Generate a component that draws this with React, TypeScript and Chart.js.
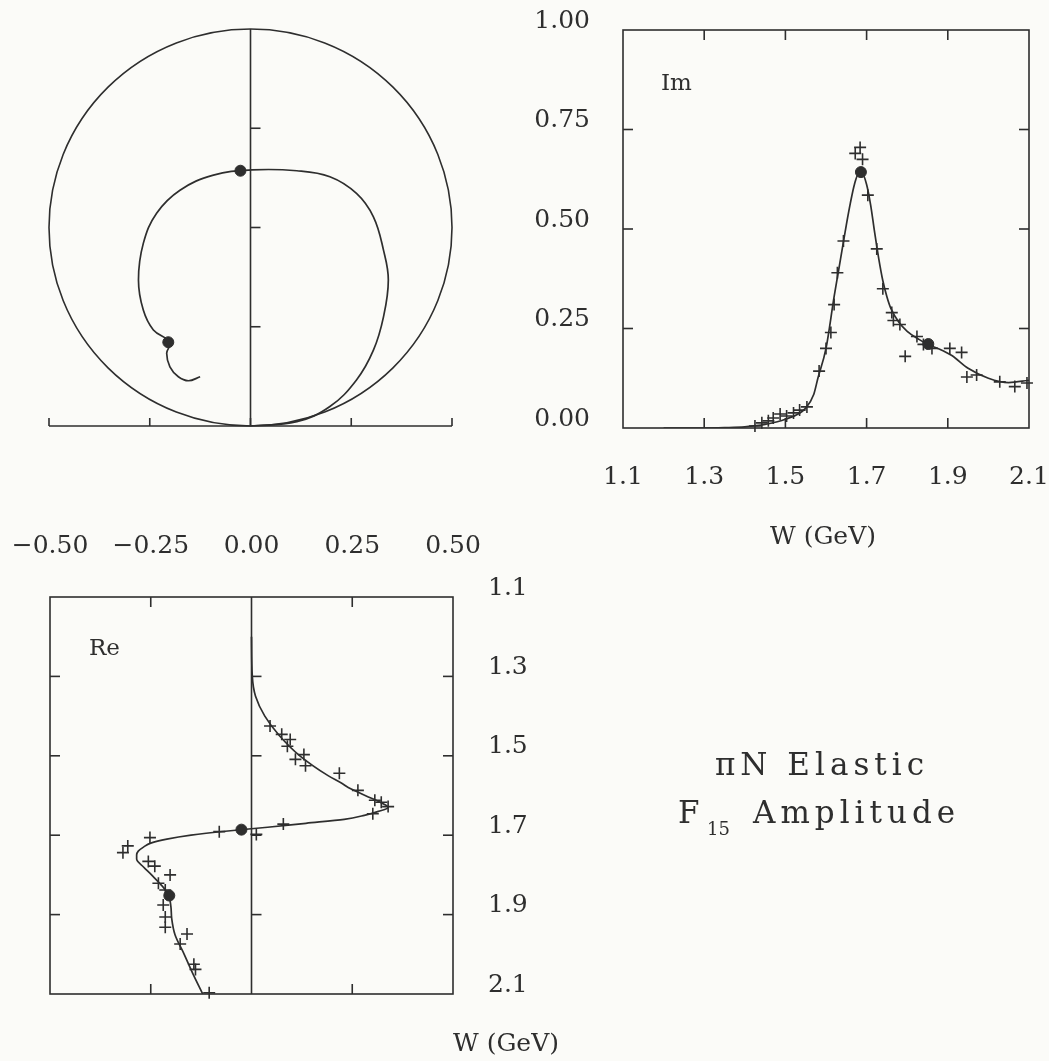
import React, { useEffect, useRef } from 'react';
import { Chart, registerables } from 'chart.js';

Chart.register(...registerables);

const INK = '#2e2e2e';
const FONT = 'DejaVu Serif';

// ---- fitted amplitude vs W (shared W grid) ----
const FIT_W = [1.20, 1.30, 1.35, 1.40, 1.45, 1.50, 1.55, 1.57, 1.58, 1.60, 1.62, 1.63, 1.64, 1.65, 1.66, 1.67, 1.68, 1.69, 1.70, 1.71, 1.72, 1.73, 1.74, 1.75, 1.76, 1.78, 1.80, 1.83, 1.85, 1.88, 1.91, 1.95, 2.00, 2.05, 2.10];
const FIT_RE = [0.000, 0.002, 0.010, 0.033, 0.070, 0.120, 0.190, 0.225, 0.240, 0.282, 0.325, 0.339, 0.315, 0.280, 0.230, 0.135, 0.040, -0.065, -0.150, -0.210, -0.250, -0.268, -0.281, -0.285, -0.285, -0.268, -0.248, -0.220, -0.206, -0.200, -0.198, -0.190, -0.167, -0.145, -0.121];
const FIT_IM = [0.000, 0.000, 0.001, 0.003, 0.009, 0.022, 0.050, 0.085, 0.125, 0.200, 0.330, 0.390, 0.450, 0.510, 0.565, 0.612, 0.638, 0.638, 0.612, 0.560, 0.490, 0.425, 0.370, 0.330, 0.300, 0.265, 0.243, 0.222, 0.210, 0.198, 0.182, 0.150, 0.125, 0.114, 0.120];

// ---- Argand trajectory (Re, Im) ----
const ARG_RE = [0.000, 0.115, 0.197, 0.263, 0.305, 0.330, 0.342, 0.330, 0.305, 0.263, 0.197, 0.115, 0.003, -0.092, -0.175, -0.233, -0.266, -0.278, -0.266, -0.241, -0.200, -0.208, -0.200, -0.179, -0.154, -0.125];
const ARG_IM = [0.000, 0.011, 0.049, 0.116, 0.191, 0.275, 0.368, 0.443, 0.527, 0.586, 0.628, 0.643, 0.645, 0.632, 0.594, 0.536, 0.460, 0.368, 0.292, 0.242, 0.211, 0.183, 0.149, 0.124, 0.114, 0.124];

// ---- data points (crosses) ----
const IM_W = [1.425, 1.442, 1.458, 1.470, 1.487, 1.503, 1.520, 1.535, 1.553, 1.583, 1.600, 1.612, 1.620, 1.628, 1.643, 1.672, 1.684, 1.690, 1.703, 1.725, 1.740, 1.762, 1.766, 1.782, 1.795, 1.824, 1.840, 1.861, 1.905, 1.934, 1.947, 1.971, 2.028, 2.065, 2.095];
const IM_V = [0.005, 0.013, 0.018, 0.025, 0.035, 0.030, 0.038, 0.045, 0.053, 0.143, 0.200, 0.240, 0.310, 0.390, 0.470, 0.690, 0.705, 0.675, 0.585, 0.450, 0.350, 0.290, 0.270, 0.260, 0.180, 0.230, 0.210, 0.200, 0.200, 0.190, 0.128, 0.133, 0.116, 0.104, 0.113];

const RE_W = [1.425, 1.446, 1.459, 1.476, 1.497, 1.509, 1.525, 1.544, 1.587, 1.612, 1.617, 1.628, 1.646, 1.672, 1.691, 1.698, 1.706, 1.727, 1.744, 1.766, 1.778, 1.800, 1.821, 1.838, 1.876, 1.906, 1.932, 1.949, 1.974, 2.025, 2.038, 2.097];
const RE_V = [0.046, 0.075, 0.096, 0.089, 0.130, 0.109, 0.134, 0.218, 0.264, 0.306, 0.322, 0.339, 0.301, 0.079, -0.080, 0.012, -0.252, -0.307, -0.319, -0.256, -0.240, -0.202, -0.231, -0.214, -0.219, -0.214, -0.214, -0.160, -0.177, -0.143, -0.139, -0.105];

// ---- resonance markers ----
const DOT_W = [1.686, 1.852];
const DOT_RE = [-0.025, -0.204];
const DOT_IM = [0.643, 0.211];

// ---- ticks ----
const W_TICKS = [1.1, 1.3, 1.5, 1.7, 1.9, 2.1];
const IM_TICKS = [0, 0.25, 0.5, 0.75, 1.0];
const RE_TICKS = [-0.5, -0.25, 0, 0.25, 0.5];

const TICK = 10;
const tickFont = { family: FONT, size: 25 };

function seg(ctx: CanvasRenderingContext2D, x1: number, y1: number, x2: number, y2: number) {
  ctx.beginPath();
  ctx.moveTo(x1, y1);
  ctx.lineTo(x2, y2);
  ctx.stroke();
}

const fmtSigned = (v: number) => Number(v).toFixed(2).replace('-', '\u2212');

function fixSize(kind: 'w' | 'h', size: number) {
  return (s: any) => {
    if (kind === 'w') s.width = size;
    else s.height = size;
    s.paddingLeft = 0;
    s.paddingRight = 0;
    s.paddingTop = 0;
    s.paddingBottom = 0;
  };
}

const argandAxes = {
  id: 'argandAxes',
  beforeDatasetsDraw(chart: any) {
    const { ctx, scales } = chart;
    const xs = scales.x, ys = scales.y;
    ctx.save();
    ctx.strokeStyle = INK;
    ctx.lineWidth = 1.6;
    const cx = xs.getPixelForValue(0);
    const cy = ys.getPixelForValue(0.5);
    const rx = xs.getPixelForValue(0.5) - cx;
    const ry = ys.getPixelForValue(0) - cy;
    ctx.beginPath();
    ctx.ellipse(cx, cy, rx, ry, 0, 0, Math.PI * 2);
    ctx.stroke();
    const y0 = ys.getPixelForValue(0);
    seg(ctx, xs.getPixelForValue(RE_TICKS[0]), y0, xs.getPixelForValue(RE_TICKS[RE_TICKS.length - 1]), y0);
    RE_TICKS.forEach((v) => {
      const p = xs.getPixelForValue(v);
      seg(ctx, p, y0, p, y0 - 8);
    });
    seg(ctx, cx, ys.getPixelForValue(0), cx, ys.getPixelForValue(1));
    IM_TICKS.slice(1, -1).forEach((v) => {
      const p = ys.getPixelForValue(v);
      seg(ctx, cx, p, cx + TICK, p);
    });
    ctx.restore();
  },
};

const imFrame = {
  id: 'imFrame',
  beforeDatasetsDraw(chart: any) {
    const { ctx, chartArea: a, scales } = chart;
    const xs = scales.x, ys = scales.y;
    ctx.save();
    ctx.strokeStyle = INK;
    ctx.lineWidth = 1.6;
    ctx.strokeRect(a.left, a.top, a.right - a.left, a.bottom - a.top);
    W_TICKS.slice(1, -1).forEach((v) => {
      const p = xs.getPixelForValue(v);
      seg(ctx, p, a.bottom, p, a.bottom - TICK);
      seg(ctx, p, a.top, p, a.top + TICK);
    });
    IM_TICKS.slice(1, -1).forEach((v) => {
      const p = ys.getPixelForValue(v);
      seg(ctx, a.left, p, a.left + TICK, p);
      seg(ctx, a.right, p, a.right - TICK, p);
    });
    ctx.restore();
  },
};

const reFrame = {
  id: 'reFrame',
  beforeDatasetsDraw(chart: any) {
    const { ctx, chartArea: a, scales } = chart;
    const xs = scales.x, ys = scales.y;
    ctx.save();
    ctx.strokeStyle = INK;
    ctx.lineWidth = 1.6;
    ctx.strokeRect(a.left, a.top, a.right - a.left, a.bottom - a.top);
    const x0 = xs.getPixelForValue(0);
    seg(ctx, x0, a.top, x0, a.bottom);
    RE_TICKS.slice(1, -1).forEach((v) => {
      if (v === 0) return;
      const p = xs.getPixelForValue(v);
      seg(ctx, p, a.top, p, a.top + TICK);
      seg(ctx, p, a.bottom, p, a.bottom - TICK);
    });
    W_TICKS.slice(1, -1).forEach((v) => {
      const p = ys.getPixelForValue(v);
      seg(ctx, a.left, p, a.left + TICK, p);
      seg(ctx, a.right, p, a.right - TICK, p);
      seg(ctx, x0, p, x0 + TICK, p);
    });
    ctx.restore();
  },
};

const baseOptions = {
  responsive: false,
  animation: false as const,
  events: [] as any[],
  plugins: { legend: { display: false }, tooltip: { enabled: false } },
};

const dotDataset = (pts: { x: number; y: number }[]) => ({
  data: pts,
  showLine: false,
  pointStyle: 'circle',
  pointRadius: 5.5,
  pointBackgroundColor: INK,
  pointBorderColor: INK,
  pointBorderWidth: 1,
  clip: false,
});

const crossDataset = (pts: { x: number; y: number }[]) => ({
  data: pts,
  showLine: false,
  pointStyle: 'cross',
  pointRadius: 6,
  pointBorderColor: INK,
  pointBorderWidth: 1.6,
  clip: false,
});

const curveDataset = (pts: { x: number; y: number }[], extra: any) => ({
  data: pts,
  showLine: true,
  pointRadius: 0,
  borderColor: INK,
  borderWidth: 1.7,
  fill: false,
  ...extra,
});

function argandConfig(): any {
  return {
    type: 'line',
    data: {
      datasets: [
        dotDataset(DOT_RE.map((x, i) => ({ x, y: DOT_IM[i] }))),
        curveDataset(ARG_RE.map((x, i) => ({ x, y: ARG_IM[i] })), { tension: 0.4 }),
      ],
    },
    options: {
      ...baseOptions,
      layout: { padding: { left: 49, right: 48, top: 29, bottom: 44 } },
      scales: {
        x: { type: 'linear', min: -0.5, max: 0.5, display: false },
        y: { type: 'linear', min: 0, max: 1, display: false },
      },
    },
    plugins: [argandAxes],
  };
}

function imConfig(): any {
  return {
    type: 'line',
    data: {
      datasets: [
        dotDataset(DOT_W.map((x, i) => ({ x, y: DOT_IM[i] }))),
        crossDataset(IM_W.map((x, i) => ({ x, y: IM_V[i] }))),
        curveDataset(FIT_W.map((x, i) => ({ x, y: FIT_IM[i] })), { cubicInterpolationMode: 'monotone' }),
      ],
    },
    options: {
      ...baseOptions,
      layout: { padding: { left: 0, right: 20, top: 30, bottom: 0 } },
      scales: {
        x: {
          type: 'linear',
          position: 'bottom',
          min: 1.1,
          max: 2.1,
          grid: { display: false, drawTicks: false },
          border: { display: false },
          ticks: { padding: 34, color: INK, font: tickFont, maxRotation: 0, callback: (v: number) => Number(v).toFixed(1) },
          afterBuildTicks: (s: any) => { s.ticks = W_TICKS.map((value) => ({ value })); },
          afterFit: fixSize('h', 132),
        },
        y: {
          type: 'linear',
          position: 'left',
          min: 0,
          max: 1,
          grid: { display: false, drawTicks: false },
          border: { display: false },
          ticks: { padding: 33, labelOffset: -9, color: INK, font: tickFont, callback: (v: number) => Number(v).toFixed(2) },
          afterBuildTicks: (s: any) => { s.ticks = IM_TICKS.map((value) => ({ value })); },
          afterFit: fixSize('w', 123),
        },
      },
    },
    plugins: [imFrame],
  };
}

function reConfig(): any {
  return {
    type: 'line',
    data: {
      datasets: [
        dotDataset(DOT_RE.map((x, i) => ({ x, y: DOT_W[i] }))),
        crossDataset(RE_V.map((x, i) => ({ x, y: RE_W[i] }))),
        curveDataset(FIT_RE.map((x, i) => ({ x, y: FIT_W[i] })), { cubicInterpolationMode: 'monotone' }),
      ],
    },
    options: {
      ...baseOptions,
      indexAxis: 'y',
      layout: { padding: { left: 50, right: 0, top: 0, bottom: 61 } },
      scales: {
        x: {
          type: 'linear',
          position: 'top',
          min: -0.5,
          max: 0.5,
          grid: { display: false, drawTicks: false },
          border: { display: false },
          ticks: { padding: 36, color: INK, font: tickFont, maxRotation: 0, callback: (v: number) => fmtSigned(v) },
          afterBuildTicks: (s: any) => { s.ticks = RE_TICKS.map((value) => ({ value })); },
          afterFit: fixSize('h', 97),
        },
        y: {
          type: 'linear',
          position: 'right',
          min: 1.1,
          max: 2.1,
          reverse: true,
          grid: { display: false, drawTicks: false },
          border: { display: false },
          ticks: { padding: 35, labelOffset: -9, color: INK, font: tickFont, callback: (v: number) => Number(v).toFixed(1) },
          afterBuildTicks: (s: any) => { s.ticks = W_TICKS.map((value) => ({ value })); },
          afterFit: fixSize('w', 107),
        },
      },
    },
    plugins: [reFrame],
  };
}

function ChartBox(props: { left: number; top: number; width: number; height: number; build: () => any }) {
  const ref = useRef<HTMLCanvasElement>(null);
  useEffect(() => {
    const chart = new Chart(ref.current as HTMLCanvasElement, props.build());
    return () => chart.destroy();
  }, []);
  return (
    <canvas
      ref={ref}
      width={props.width}
      height={props.height}
      style={{ position: 'absolute', left: props.left, top: props.top, width: props.width, height: props.height }}
    />
  );
}

const textBase: React.CSSProperties = {
  position: 'absolute',
  fontFamily: FONT,
  color: INK,
  whiteSpace: 'nowrap',
  margin: 0,
};

export default function App() {
  return (
    <div>
      <div style={{ position: 'fixed', left: 0, top: 0, right: 0, bottom: 0, background: '#fbfbf8' }} />
      <ChartBox left={0} top={0} width={500} height={470} build={argandConfig} />
      <ChartBox left={500} top={0} width={549} height={560} build={imConfig} />
      <ChartBox left={0} top={500} width={560} height={555} build={reConfig} />

      <div style={{ ...textBase, left: 661, top: 71, fontSize: 23, lineHeight: '23px' }}>Im</div>
      <div style={{ ...textBase, left: 89, top: 636, fontSize: 23, lineHeight: '23px' }}>Re</div>

      <div style={{ ...textBase, left: 723, width: 200, textAlign: 'center', top: 521, fontSize: 25, lineHeight: '30px' }}>W (GeV)</div>
      <div style={{ ...textBase, left: 406, width: 200, textAlign: 'center', top: 1028, fontSize: 25, lineHeight: '30px' }}>W (GeV)</div>

      <div style={{ ...textBase, left: 715, top: 749, fontSize: 31, lineHeight: '30px', letterSpacing: '5px' }}>πN Elastic</div>
      <div style={{ ...textBase, left: 678, top: 797, fontSize: 31, lineHeight: '30px' }}>F</div>
      <div style={{ ...textBase, left: 707, top: 820, fontSize: 18, lineHeight: '18px' }}>15</div>
      <div style={{ ...textBase, left: 753, top: 797, fontSize: 31, lineHeight: '30px', letterSpacing: '5px' }}>Amplitude</div>
    </div>
  );
}
